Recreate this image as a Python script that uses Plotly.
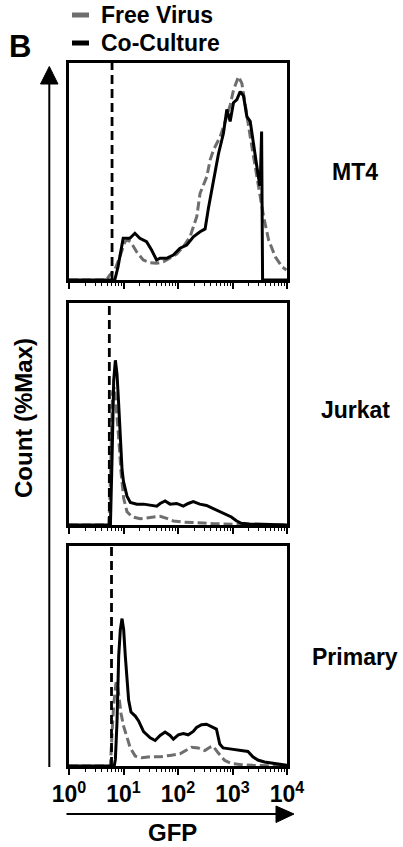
import plotly.graph_objects as go

W, H = 403, 847

# ---------------- data (log10 GFP positions, % of panel max) ----------------
panel_names = ["MT4", "Jurkat", "Primary"]
gate_log10 = [0.79, 0.74, 0.78]

mt4_co_logx = [0.0, 0.84, 0.90, 0.994, 1.117, 1.209, 1.30, 1.423, 1.515, 1.607, 1.669, 1.791, 1.914, 2.037,
               2.16, 2.282, 2.405, 2.497, 2.558, 2.65, 2.742, 2.834, 2.896, 2.957, 3.018, 3.08, 3.141, 3.202,
               3.264, 3.325, 3.387, 3.448, 3.497, 3.509, 3.534, 3.552, 4.0]
mt4_co_y = [0, 0, 6.1, 19.2, 19.2, 21.5, 19.2, 17.6, 13.8, 9.2, 10.0, 10.0, 11.5, 14.6, 16.1, 19.9, 22.2, 23.5,
            33, 45, 58, 67.5, 78.5, 73, 81.6, 83, 86.7, 84.7, 75.2, 73, 61.3, 52, 44, 44, 68.3, 0, 0]
mt4_free_logx = [0.0, 0.687, 0.748, 0.84, 0.933, 1.025, 1.086, 1.147, 1.239, 1.362, 1.485, 1.607, 1.73, 1.853,
                 1.975, 2.098, 2.221, 2.344, 2.405, 2.528, 2.589, 2.65, 2.773, 2.896, 2.957, 3.018, 3.11, 3.172,
                 3.233, 3.325, 3.417, 3.497, 3.571, 3.663, 3.785, 3.908, 3.988]
mt4_free_y = [0, 0, 2.3, 4.6, 10.7, 17.6, 18.4, 16.9, 13.0, 9.2, 8.0, 7.7, 8.4, 10.0, 11.9, 15.3, 19.9, 29.1,
              39.9, 47.5, 55.2, 59.8, 65.9, 75.2, 80.5, 87.4, 93.6, 90.5, 79.8, 66, 52.1, 39.9, 29.1, 18.4,
              10.7, 6.1, 4.6]

jurkat_co_logx = [0.0, 0.76, 0.79, 0.82, 0.851, 0.881, 0.91, 0.94, 0.973, 1.0, 1.064, 1.125, 1.246, 1.368,
                  1.49, 1.611, 1.672, 1.763, 1.854, 1.976, 2.097, 2.188, 2.28, 2.4, 2.523, 2.644, 2.766, 2.888,
                  2.979, 3.07, 3.161, 3.313, 3.495, 3.617, 3.74, 4.0]
jurkat_co_y = [0, 0, 30, 65, 74.2, 68, 55, 38, 25, 19.5, 13, 10.2, 9.4, 9.4, 9.0, 8.5, 9.7, 10.8, 9.4, 9.7,
               8.5, 9.7, 10.5, 9.4, 8.8, 7.5, 6.0, 4.9, 3.6, 1.9, 0.75, 0.45, 0.3, 0.1, 0, 0]
jurkat_free_logx = [0.0, 0.73, 0.748, 0.772, 0.8, 0.833, 0.863, 0.894, 0.924, 0.954, 1.003, 1.064, 1.155,
                    1.307, 1.49, 1.672, 1.793, 1.915, 2.097, 2.28, 2.462, 2.644, 2.888, 3.19, 3.495, 4.0]
jurkat_free_y = [0, 0, 10, 40, 60, 62, 55, 45, 35, 24, 12, 6, 3.7, 2.8, 3.4, 3.9, 3.0, 1.8, 1.3, 1.2, 0.9,
                 0.6, 0.4, 0.2, 0, 0]

primary_co_logx = [0.0, 0.83, 0.851, 0.881, 0.912, 0.942, 0.973, 1.003, 1.033, 1.064, 1.094, 1.137, 1.216,
                   1.277, 1.368, 1.49, 1.58, 1.672, 1.763, 1.854, 1.915, 2.006, 2.097, 2.188, 2.28, 2.34,
                   2.432, 2.523, 2.614, 2.705, 2.766, 2.827, 2.918, 3.009, 3.161, 3.283, 3.374, 3.465, 3.587,
                   3.739, 3.89, 4.0]
primary_co_y = [0, 0, 3, 20, 50, 62, 67, 62, 50, 37, 30, 24.5, 22.7, 20.5, 15.6, 12.8, 11.6, 13.9, 15.4,
                13.9, 12.2, 14.2, 14.8, 14.2, 15.7, 17.5, 18.8, 19, 17.9, 16.8, 10, 8.2, 7.9, 7.6, 7.3, 6.6,
                4.2, 2.7, 1.8, 1.2, 0.6, 0.3]
primary_free_logx = [0.0, 0.76, 0.79, 0.82, 0.863, 0.894, 0.924, 0.954, 1.003, 1.064, 1.125, 1.216, 1.337,
                     1.49, 1.672, 1.854, 2.036, 2.158, 2.249, 2.371, 2.492, 2.584, 2.644, 2.736, 2.857, 2.979,
                     3.161, 3.374, 3.617, 4.0]
primary_free_y = [0, 0, 15, 28, 38, 36, 30, 24, 18, 12.5, 8.2, 4.5, 3.8, 4.2, 4.2, 4.8, 5.5, 7.3, 8.5, 8.2,
                  7, 8.5, 9, 6, 2.5, 1.2, 0.6, 0.3, 0.1, 0]

tick_vals = [1, 10, 100, 1000, 10000]
tick_text = ["10<sup>0</sup>", "10<sup>1</sup>", "10<sup>2</sup>", "10<sup>3</sup>", "10<sup>4</sup>"]
legend_names = ["Free Virus", "Co-Culture"]

# ---------------- styling ----------------
GRAY = "#6e6e6e"
FONT = "Liberation Sans, Arial, sans-serif"

free_sets = [(mt4_free_logx, mt4_free_y), (jurkat_free_logx, jurkat_free_y), (primary_free_logx, primary_free_y)]
co_sets = [(mt4_co_logx, mt4_co_y), (jurkat_co_logx, jurkat_co_y), (primary_co_logx, primary_co_y)]

def px_x(p):
    return p / W

def px_y(p):
    return 1 - p / H

box_tops = [62.7, 303, 546]
box_bots = [280, 525, 766]
x_dom = [px_x(69), px_x(287)]

fig = go.Figure()
minor_vals = [m * 10 ** d for d in range(4) for m in range(2, 10)]

for i in range(3):
    xa = "x" if i == 0 else f"x{i+1}"
    ya = "y" if i == 0 else f"y{i+1}"
    fl, fy = free_sets[i]
    cl, cy = co_sets[i]
    fig.add_trace(go.Scatter(x=[10 ** v for v in fl], y=fy, mode="lines", xaxis=xa, yaxis=ya,
                             line=dict(color=GRAY, width=3, dash="9px,4px"), showlegend=False,
                             name=legend_names[0]))
    fig.add_trace(go.Scatter(x=[10 ** v for v in cl], y=cy, mode="lines", xaxis=xa, yaxis=ya,
                             line=dict(color="black", width=3), showlegend=False, name=legend_names[1]))
    g = 10 ** gate_log10[i]
    fig.add_trace(go.Scatter(x=[g, g], y=[0, 100], mode="lines", xaxis=xa, yaxis=ya,
                             line=dict(color="black", width=2.8, dash="9px,5px"), showlegend=False))

    axkw = dict(type="log", range=[0, 4], domain=x_dom, showline=True, mirror=True, linecolor="black",
                linewidth=2.5, showgrid=False, zeroline=False, ticks="outside", ticklen=6, tickwidth=1.5,
                tickcolor="black", tickvals=tick_vals, ticktext=tick_text, automargin=False,
                minor=dict(tickmode="array", tickvals=minor_vals, ticks="outside", ticklen=3,
                           tickwidth=1, tickcolor="black", showgrid=False),
                showticklabels=(i == 2),
                tickfont=dict(family=FONT, size=23, color="black", weight="bold"),
                anchor=ya)
    aykw = dict(range=[0, 100], domain=[px_y(box_bots[i]), px_y(box_tops[i])], showline=True, mirror=True,
                linecolor="black", linewidth=2.5, showgrid=False, zeroline=False, showticklabels=False,
                ticks="", anchor=xa, automargin=False)
    fig.update_layout(**{("xaxis" if i == 0 else f"xaxis{i+1}"): axkw,
                         ("yaxis" if i == 0 else f"yaxis{i+1}"): aykw})

annotations = []
shapes = []

def txt(s, x, y, size, angle=0, xanchor="center"):
    annotations.append(dict(text=s, x=px_x(x), y=px_y(y), xref="paper", yref="paper", showarrow=False,
                            xanchor=xanchor, yanchor="middle", textangle=angle,
                            font=dict(family=FONT, size=size, color="black", weight="bold")))

txt("B", 20, 47, 31)
txt(legend_names[0], 99, 15, 23, xanchor="left")
txt(legend_names[1], 99, 43, 23, xanchor="left")
shapes.append(dict(type="line", xref="paper", yref="paper", x0=px_x(72), x1=px_x(89), y0=px_y(15), y1=px_y(15),
                   line=dict(color=GRAY, width=5)))
shapes.append(dict(type="line", xref="paper", yref="paper", x0=px_x(72), x1=px_x(89), y0=px_y(43), y1=px_y(43),
                   line=dict(color="black", width=5)))

label_y = [172.5, 410, 657]
for i, name in enumerate(panel_names):
    txt(name, 355, label_y[i], 23)

txt("Count (%Max)", 24, 418, 24, angle=-90)
txt("GFP", 172, 832, 24)

# axis arrows
shapes.append(dict(type="line", xref="paper", yref="paper", x0=px_x(49.3), x1=px_x(49.3),
                   y0=px_y(767), y1=px_y(82), line=dict(color="black", width=2)))
shapes.append(dict(type="path", xref="paper", yref="paper",
                   path=f"M {px_x(40.5)} {px_y(84)} L {px_x(58)} {px_y(84)} L {px_x(49.3)} {px_y(66.5)} Z",
                   fillcolor="black", line=dict(color="black", width=1)))
shapes.append(dict(type="line", xref="paper", yref="paper", x0=px_x(66.5), x1=px_x(278),
                   y0=px_y(814), y1=px_y(814), line=dict(color="black", width=2)))
shapes.append(dict(type="path", xref="paper", yref="paper",
                   path=f"M {px_x(276)} {px_y(806)} L {px_x(276)} {px_y(822.5)} L {px_x(294)} {px_y(814)} Z",
                   fillcolor="black", line=dict(color="black", width=1)))

fig.update_layout(width=W, height=H, margin=dict(l=0, r=0, t=0, b=0), paper_bgcolor="white",
                  plot_bgcolor="white", showlegend=False, annotations=annotations, shapes=shapes)

fig.write_html("out.html")
